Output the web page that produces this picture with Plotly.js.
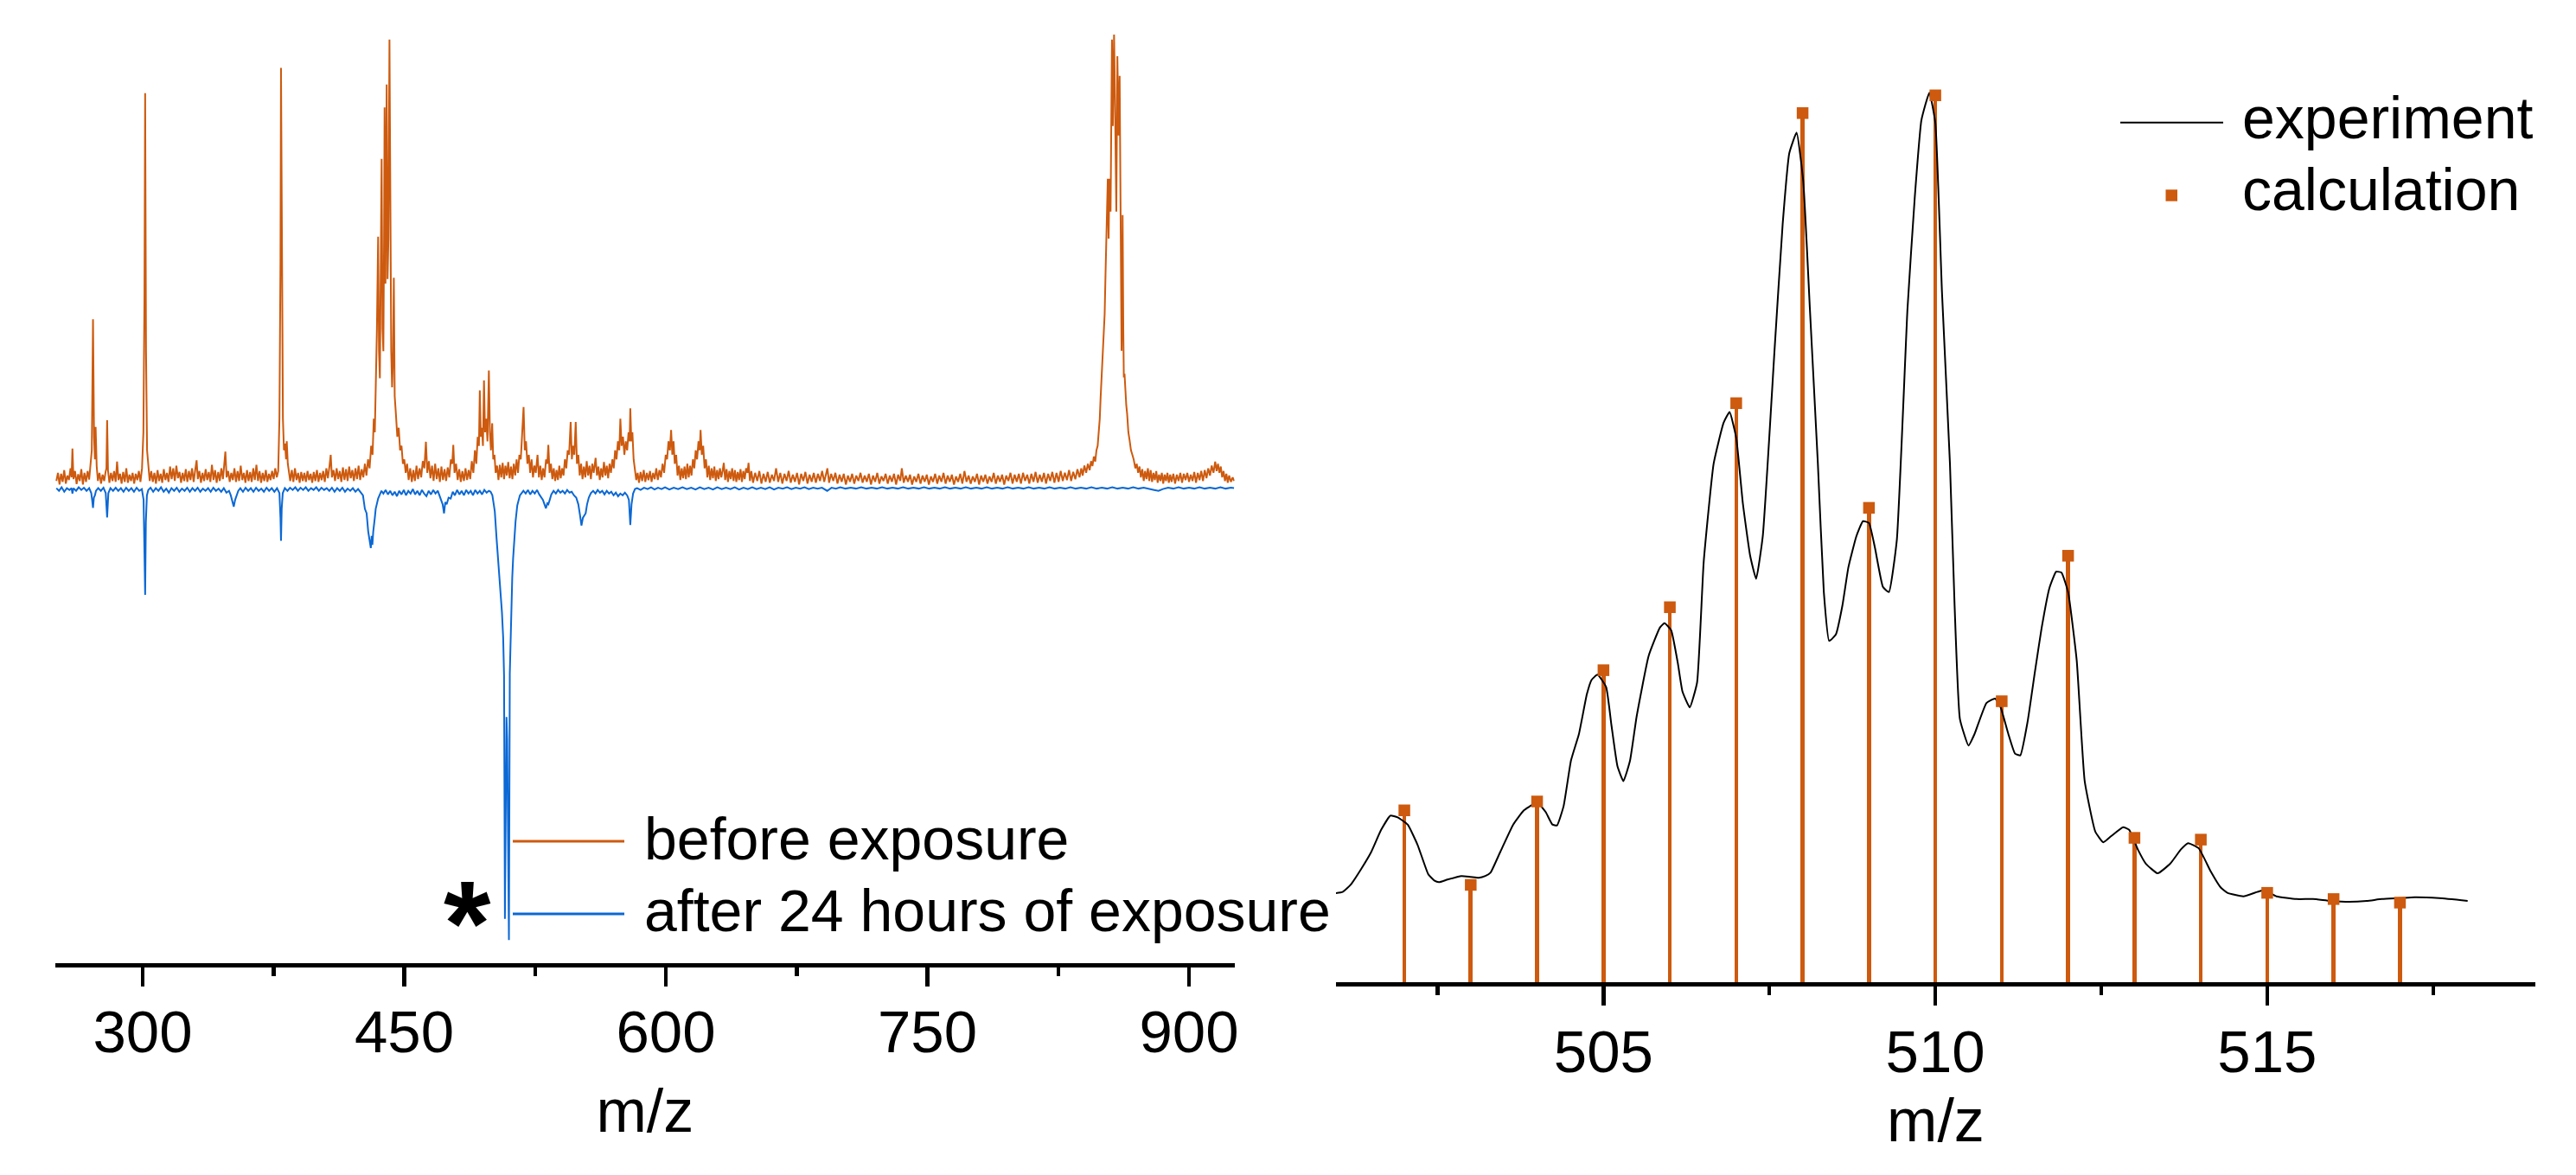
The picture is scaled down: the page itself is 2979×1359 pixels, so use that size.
<!DOCTYPE html>
<html><head><meta charset="utf-8">
<script src="https://cdn.plot.ly/plotly-3.0.1.min.js"></script>
<style>html,body{margin:0;padding:0;background:#fff;}#chart{width:2979px;height:1359px;}</style>
</head><body><div id="chart"></div>
<script>
// ---------- DATA ----------
// Left panel: full mass spectrum, relative intensity (before exposure, drawn upward)
const beforeSpectrum = [
[250.5,0.012],[251.4,0.030],[252.3,0.004],[253.2,0.028],[254.1,0.010],[255.0,0.036],[255.9,0.006],[256.8,0.024],[257.7,0.014],[258.6,0.040],[259.2,0.020],[259.7,0.084],[260.3,0.016],[261.2,0.034],[262.1,0.005],[263.0,0.027],[263.9,0.012],[264.8,0.038],[265.7,0.004],[266.6,0.030],[267.5,0.010],[268.4,0.034],[269.3,0.015],[270.1,0.045],[270.8,0.080],[271.5,0.371],[272.1,0.110],[272.6,0.060],[273.0,0.132],[273.6,0.045],[274.3,0.012],[275.2,0.030],[276.1,0.006],[277.0,0.026],[277.9,0.012],[278.7,0.032],[279.2,0.040],[279.6,0.147],[280.1,0.035],[280.9,0.008],[281.8,0.030],[282.7,0.012],[283.6,0.034],[284.5,0.010],[285.3,0.055],[286.1,0.014],[287.0,0.028],[287.9,0.006],[288.8,0.032],[289.7,0.010],[290.6,0.040],[291.5,0.008],[292.4,0.026],[293.3,0.012],[294.2,0.030],[295.1,0.006],[296.0,0.028],[296.9,0.014],[297.8,0.034],[298.7,0.010],[299.6,0.040],[300.4,0.120],[301.0,0.420],[301.4,0.873],[301.9,0.300],[302.5,0.080],[303.2,0.040],[304.0,0.012],
[304.9,0.034],[305.8,0.010],[306.7,0.030],[307.6,0.006],[308.5,0.036],[309.4,0.012],[310.3,0.028],[311.2,0.008],[312.1,0.038],[313.0,0.014],[313.9,0.030],[314.8,0.010],[315.7,0.044],[316.6,0.016],[317.5,0.040],[318.4,0.012],[319.3,0.046],[320.2,0.018],[321.1,0.032],[322.0,0.008],[322.9,0.030],[323.8,0.012],[324.7,0.038],[325.6,0.010],[326.5,0.034],[327.4,0.014],[328.3,0.040],[329.2,0.010],[330.1,0.036],[330.9,0.058],[331.6,0.016],[332.5,0.034],[333.4,0.008],[334.3,0.030],[335.2,0.012],[336.1,0.038],[337.0,0.014],[337.9,0.032],[338.8,0.010],[339.7,0.048],[340.6,0.014],[341.5,0.036],[342.4,0.008],[343.3,0.032],[344.2,0.012],[345.1,0.040],[346.0,0.016],[346.8,0.050],[347.4,0.077],[348.1,0.020],[349.0,0.034],[349.9,0.010],[350.8,0.030],[351.7,0.014],[352.6,0.040],[353.5,0.010],[354.4,0.034],[355.3,0.012],[356.2,0.046],[357.1,0.014],[358.0,0.030],[358.9,0.008],[359.8,0.036],[360.7,0.012],[361.6,0.032],[362.5,0.010],[363.4,0.040],[364.3,0.014],[365.2,0.048],[366.1,0.012],[367.0,0.034],[367.9,0.008],[368.8,0.030],[369.7,0.012],[370.6,0.036],[371.5,0.010],[372.4,0.028],[373.3,0.014],[374.2,0.034],[375.1,0.016],[376.0,0.040],[376.9,0.020],[377.7,0.034],[378.4,0.150],[379.0,0.500],[379.3,0.929],[379.8,0.450],[380.4,0.150],[381.0,0.080],[381.6,0.095],[382.2,0.060],[382.6,0.100],[383.2,0.050],[383.9,0.030],[384.6,0.012],
[385.5,0.036],[386.4,0.010],[387.3,0.040],[388.2,0.014],[389.1,0.030],[390.0,0.008],[390.9,0.032],[391.8,0.012],[392.7,0.030],[393.6,0.010],[394.5,0.034],[395.4,0.014],[396.3,0.028],[397.2,0.008],[398.1,0.032],[399.0,0.012],[399.9,0.036],[400.8,0.010],[401.7,0.030],[402.6,0.014],[403.5,0.034],[404.4,0.010],[405.3,0.040],[406.2,0.018],[407.1,0.045],[407.8,0.070],[408.5,0.020],[409.4,0.036],[410.3,0.012],[411.2,0.040],[412.1,0.016],[413.0,0.034],[413.9,0.010],[414.8,0.042],[415.7,0.014],[416.6,0.038],[417.5,0.012],[418.4,0.044],[419.3,0.018],[420.2,0.036],[421.1,0.012],[422.0,0.040],[422.9,0.016],[423.8,0.046],[424.7,0.014],[425.6,0.038],[426.5,0.020],[427.4,0.050],[428.3,0.024],[429.2,0.060],[430.1,0.040],[431.0,0.090],[431.8,0.070],[432.5,0.150],[433.1,0.120],[433.7,0.220],[434.3,0.350],[435.0,0.554],[435.5,0.300],[436.0,0.240],[436.5,0.420],[437.0,0.727],[437.5,0.350],[438.0,0.300],[438.4,0.550],[438.7,0.841],[439.2,0.450],[439.5,0.600],[439.9,0.892],[440.4,0.460],[440.9,0.550],[441.5,0.992],[442.0,0.620],[442.5,0.300],[443.0,0.220],[443.5,0.280],[444.0,0.463],[444.5,0.200],[445.2,0.160],[446.0,0.110],[446.8,0.130],[447.6,0.080],[448.4,0.090],[449.2,0.050],[450.0,0.060],[450.8,0.030],[451.6,0.050],[452.5,0.014],[453.4,0.040],[454.3,0.010],[455.2,0.036],[456.1,0.012],[457.0,0.046],[457.9,0.016],[458.8,0.040],[459.7,0.020],[460.6,0.056],[461.5,0.040],[462.4,0.099],[463.2,0.030],[464.1,0.056],[465.0,0.018],[465.9,0.046],[466.8,0.012],[467.7,0.050],[468.6,0.016],[469.5,0.040],[470.4,0.010],[471.3,0.044],[472.2,0.014],[473.1,0.038],[474.0,0.012],[474.9,0.042],[475.8,0.020],[476.7,0.060],[477.5,0.050],[478.1,0.092],[478.8,0.030],[479.7,0.050],[480.6,0.014],[481.5,0.038],[482.4,0.010],[483.3,0.034],[484.2,0.012],[485.1,0.040],[486.0,0.014],[486.9,0.036],[487.8,0.016],[488.7,0.056],[489.6,0.030],[490.5,0.080],[491.3,0.050],[492.1,0.110],[492.8,0.090],[493.3,0.213],[493.9,0.110],[494.5,0.130],[495.1,0.090],[495.7,0.235],[496.3,0.120],[497.0,0.150],[497.7,0.100],[498.5,0.257],[499.1,0.120],[499.7,0.080],[500.4,0.140],[501.0,0.060],[501.7,0.070],[502.4,0.030],[503.2,0.046],[504.0,0.014],[504.8,0.048],[505.6,0.020],[506.4,0.052],[507.2,0.016],[508.0,0.046],[508.8,0.024],[509.6,0.054],[510.4,0.018],[511.2,0.044],[512.0,0.016],[512.8,0.050],[513.6,0.024],[514.4,0.060],[515.2,0.030],[516.0,0.070],[516.8,0.060],[517.6,0.110],[518.4,0.176],[519.1,0.080],[519.8,0.100],[520.6,0.050],[521.4,0.070],[522.2,0.030],[523.0,0.060],[523.8,0.020],[524.6,0.046],[525.4,0.030],[526.4,0.070],[527.2,0.020],[528.0,0.046],[528.8,0.014],[529.6,0.040],[530.4,0.020],[531.3,0.060],[532.0,0.050],[532.6,0.092],[533.3,0.030],[534.1,0.050],[534.9,0.016],[535.7,0.040],[536.5,0.012],[537.3,0.036],[538.1,0.014],[538.9,0.046],[539.7,0.018],[540.5,0.040],[541.3,0.024],[542.1,0.060],[542.9,0.040],[543.7,0.080],[544.5,0.070],[545.4,0.143],[546.1,0.060],[546.8,0.090],[547.5,0.070],[548.3,0.143],[549.0,0.050],[549.8,0.070],[550.6,0.024],[551.4,0.050],[552.2,0.016],[553.0,0.044],[553.8,0.020],[554.6,0.056],[555.4,0.024],[556.2,0.046],[557.0,0.016],[557.8,0.050],[558.6,0.030],[559.7,0.063],[560.5,0.024],[561.3,0.044],[562.1,0.014],[562.9,0.040],[563.7,0.020],[564.5,0.054],[565.3,0.024],[566.1,0.046],[566.9,0.018],[567.7,0.050],[568.5,0.030],[569.3,0.060],[570.1,0.040],[570.9,0.080],[571.7,0.060],[572.5,0.100],[573.3,0.080],[573.9,0.150],[574.6,0.090],[575.4,0.110],[576.2,0.070],[577.0,0.100],[577.8,0.080],[578.6,0.120],[579.2,0.100],[579.6,0.173],[580.2,0.100],[580.8,0.120],[581.5,0.060],[582.2,0.040],[583.0,0.014],
[583.8,0.030],[584.6,0.008],[585.5,0.032],[586.4,0.012],[587.3,0.036],[588.2,0.010],[589.1,0.030],[590.0,0.014],[590.9,0.034],[591.8,0.010],[592.7,0.030],[593.6,0.016],[594.5,0.040],[595.4,0.014],[596.3,0.036],[597.2,0.020],[598.1,0.050],[599.0,0.030],[599.9,0.070],[600.7,0.060],[601.5,0.100],[602.3,0.080],[603.0,0.125],[603.7,0.070],[604.4,0.100],[605.1,0.050],[605.9,0.070],[606.7,0.024],[607.5,0.046],[608.3,0.014],[609.1,0.040],[609.9,0.018],[610.7,0.044],[611.5,0.016],[612.3,0.050],[613.1,0.020],[613.9,0.046],[614.7,0.024],[615.5,0.060],[616.3,0.040],[617.1,0.080],[617.9,0.060],[618.7,0.100],[619.4,0.080],[619.9,0.125],[620.6,0.070],[621.4,0.090],[622.2,0.040],[623.0,0.060],[623.8,0.020],[624.6,0.046],[625.4,0.014],[626.2,0.040],[627.0,0.018],[627.8,0.044],[628.6,0.012],[629.4,0.036],[630.2,0.016],[631.0,0.040],[631.8,0.020],[632.6,0.036],[633.2,0.052],[634.0,0.014],[634.8,0.038],[635.6,0.010],[636.4,0.034],[637.2,0.016],[638.0,0.040],[638.8,0.012],[639.6,0.036],[640.4,0.010],[641.2,0.032],[642.0,0.014],[642.8,0.038],[643.6,0.010],[644.4,0.034],[645.2,0.016],[646.0,0.040],[646.8,0.030],[647.4,0.052],[648.2,0.012],[649.0,0.034],
[650.0,0.008],[651.2,0.030],[652.4,0.012],[653.6,0.034],[654.8,0.006],[656.0,0.028],[657.2,0.010],[658.4,0.032],[659.6,0.008],[660.8,0.026],[662.0,0.012],[663.2,0.040],[664.4,0.010],[665.6,0.030],[666.8,0.006],[668.0,0.028],[669.2,0.012],[670.4,0.034],[671.6,0.008],[672.8,0.026],[674.0,0.010],[675.2,0.030],[676.4,0.004],[677.6,0.028],[678.8,0.012],[680.0,0.032],[681.2,0.006],[682.4,0.026],[683.6,0.010],[684.8,0.030],[686.0,0.008],[687.2,0.028],[688.4,0.012],[689.6,0.034],[690.8,0.010],[692.0,0.030],[692.6,0.040],[693.6,0.008],[694.8,0.028],[696.0,0.012],[697.2,0.030],[698.4,0.006],[699.6,0.026],[700.8,0.010],[702.0,0.028],[703.2,0.004],[704.4,0.024],[705.6,0.010],[706.8,0.028],[708.0,0.006],[709.2,0.024],[710.4,0.012],[711.6,0.030],[712.8,0.008],[714.0,0.024],[715.2,0.010],[716.4,0.028],[717.6,0.004],[718.8,0.024],[720.0,0.010],[721.2,0.030],[722.4,0.006],[723.6,0.022],[724.8,0.012],[726.0,0.028],[727.2,0.006],[728.4,0.024],[729.6,0.010],[730.8,0.028],[732.0,0.004],[733.2,0.026],[734.4,0.012],[735.3,0.040],[736.4,0.008],[737.6,0.024],[738.8,0.010],[740.0,0.026],[741.2,0.004],[742.4,0.022],[743.6,0.010],[744.8,0.028],[746.0,0.006],[747.2,0.024],[748.4,0.010],[749.6,0.026],[750.8,0.004],[752.0,0.022],[753.2,0.010],[754.4,0.028],[755.6,0.006],[756.8,0.024],[758.0,0.010],[759.2,0.030],[760.4,0.006],[761.6,0.024],[762.8,0.010],[764.0,0.026],[765.2,0.004],[766.4,0.022],[767.6,0.010],[768.8,0.028],[770.0,0.006],[771.2,0.034],[772.4,0.010],[773.6,0.024],[774.8,0.006],[776.0,0.022],[777.2,0.010],[778.4,0.028],[779.6,0.004],[780.8,0.024],[782.0,0.010],[783.2,0.026],[784.4,0.006],[785.6,0.022],[786.8,0.010],[788.0,0.030],[789.2,0.006],[790.4,0.024],[791.6,0.010],[792.8,0.026],[794.0,0.004],[795.2,0.024],[796.4,0.012],[797.6,0.030],[798.8,0.006],[800.0,0.026],[801.2,0.010],[802.4,0.028],[803.6,0.006],[804.8,0.030],[806.0,0.012],[807.2,0.026],[808.4,0.006],[809.6,0.028],[810.8,0.010],[812.0,0.032],[813.2,0.008],[814.4,0.026],[815.6,0.010],[816.8,0.030],[818.0,0.006],[819.2,0.028],[820.4,0.012],[821.6,0.032],[822.8,0.008],[824.0,0.030],[825.2,0.010],[826.4,0.034],[827.6,0.012],[828.8,0.030],[830.0,0.014],[831.2,0.036],[832.4,0.012],[833.6,0.032],[834.8,0.016],[836.0,0.038],[837.2,0.020],[838.2,0.040],[839.0,0.024],[840.0,0.046],[841.0,0.030],[842.0,0.050],[843.0,0.036],[843.8,0.056],[844.6,0.045],[845.4,0.066],[846.2,0.055],[846.9,0.080],[847.6,0.090],[848.2,0.120],[848.8,0.150],[849.3,0.198],[849.9,0.240],[850.5,0.280],[851.1,0.330],[851.6,0.382],[852.1,0.470],[852.6,0.565],[853.0,0.620],[853.4,0.683],[853.9,0.550],[854.3,0.683],[854.7,0.640],[855.0,0.610],[855.4,0.800],[855.8,0.992],[856.3,0.800],[856.7,0.900],[857.0,1.003],[857.4,0.900],[857.8,0.700],[858.3,0.610],[858.9,0.955],[859.3,0.850],[859.6,0.779],[860.2,0.911],[860.6,0.650],[861.0,0.450],[861.3,0.301],[861.7,0.450],[861.9,0.602],[862.3,0.350],[862.6,0.242],[863.0,0.250],[863.5,0.200],[864.0,0.180],[864.5,0.161],[865.2,0.120],[865.9,0.103],[866.7,0.080],[867.5,0.070],[868.3,0.059],[869.2,0.040],[870.0,0.050],[870.8,0.030],[871.6,0.044],[872.4,0.020],[873.2,0.038],[874.0,0.012],[874.8,0.034],[875.6,0.016],[876.4,0.040],[877.2,0.012],[878.0,0.036],[878.8,0.010],[879.6,0.030],[880.4,0.014],[881.2,0.034],[882.0,0.008],[882.8,0.026],[883.6,0.012],[884.4,0.030],[885.2,0.006],[886.0,0.026],[886.8,0.012],[887.6,0.030],[888.4,0.008],[889.2,0.026],[890.0,0.010],[891.0,0.028],[892.0,0.006],[893.0,0.026],[894.0,0.012],[895.0,0.030],[896.0,0.008],[897.0,0.028],[898.0,0.014],[899.0,0.030],[900.0,0.010],[901.0,0.026],[902.0,0.012],[903.0,0.032],[904.0,0.008],[905.0,0.030],[906.0,0.014],[907.0,0.034],[908.0,0.012],[909.0,0.036],[910.0,0.018],[911.0,0.040],[912.0,0.024],[913.0,0.046],[914.0,0.030],[915.0,0.055],[915.8,0.034],[916.6,0.050],[917.4,0.030],[918.2,0.044],[919.0,0.020],[919.8,0.034],[920.6,0.012],[921.4,0.028],[922.2,0.008],[923.0,0.024],[924.0,0.010],[925.0,0.020],[925.8,0.012]
];
// after 24 hours of exposure (mirrored, drawn downward)
const afterSpectrum = [
[250.5,-0.004],[252.0,-0.010],[253.5,-0.002],[255.0,-0.012],[256.5,-0.004],[258.0,-0.008],[259.2,-0.004],[259.7,-0.016],[260.3,-0.004],[261.8,-0.010],[263.3,-0.002],[264.8,-0.008],[266.3,-0.003],[267.8,-0.010],[269.3,-0.004],[270.5,-0.015],[271.0,-0.030],[271.5,-0.048],[272.0,-0.025],[272.6,-0.020],[273.2,-0.010],[274.5,-0.004],[276.0,-0.010],[277.5,-0.003],[278.8,-0.015],[279.6,-0.069],[280.3,-0.015],[281.5,-0.004],[283.0,-0.010],[284.5,-0.003],[286.0,-0.010],[287.5,-0.004],[289.0,-0.012],[290.5,-0.003],[292.0,-0.010],[293.5,-0.004],[295.0,-0.012],[296.5,-0.003],[298.0,-0.010],[299.5,-0.006],[300.5,-0.030],[301.0,-0.120],[301.4,-0.241],[301.8,-0.080],[302.4,-0.020],[303.2,-0.008],[304.5,-0.003],[306.0,-0.012],[307.5,-0.004],[309.0,-0.010],[310.5,-0.002],[312.0,-0.012],[313.5,-0.005],[315.0,-0.014],[316.5,-0.004],[318.0,-0.010],[319.5,-0.003],[321.0,-0.012],[322.5,-0.005],[324.0,-0.010],[325.5,-0.003],[327.0,-0.012],[328.5,-0.004],[330.0,-0.010],[331.5,-0.003],[333.0,-0.012],[334.5,-0.005],[336.0,-0.010],[337.5,-0.004],[339.0,-0.012],[340.5,-0.003],[342.0,-0.010],[343.5,-0.005],[345.0,-0.012],[346.5,-0.004],[348.0,-0.014],[349.5,-0.010],[350.5,-0.020],[351.4,-0.035],[352.2,-0.045],[353.0,-0.030],[353.8,-0.020],[354.8,-0.010],[356.0,-0.004],[357.5,-0.012],[359.0,-0.003],[360.5,-0.010],[362.0,-0.004],[363.5,-0.012],[365.0,-0.003],[366.5,-0.010],[368.0,-0.005],[369.5,-0.012],[371.0,-0.003],[372.5,-0.010],[374.0,-0.004],[375.5,-0.012],[377.0,-0.004],[378.4,-0.015],[379.0,-0.070],[379.3,-0.121],[379.7,-0.050],[380.3,-0.015],[381.5,-0.004],[383.0,-0.010],[384.5,-0.003],[386.0,-0.008],[387.5,-0.002],[389.0,-0.010],[390.5,-0.003],[392.0,-0.008],[393.5,-0.002],[395.0,-0.010],[396.5,-0.004],[398.0,-0.008],[399.5,-0.002],[401.0,-0.010],[402.5,-0.003],[404.0,-0.008],[405.5,-0.004],[407.0,-0.010],[408.5,-0.003],[410.0,-0.012],[411.5,-0.004],[413.0,-0.010],[414.5,-0.003],[416.0,-0.012],[417.5,-0.005],[419.0,-0.010],[420.5,-0.004],[422.0,-0.012],[423.5,-0.006],[425.0,-0.014],[426.3,-0.020],[427.4,-0.050],[428.4,-0.060],[429.3,-0.100],[430.1,-0.120],[430.8,-0.137],[431.3,-0.110],[431.7,-0.130],[432.2,-0.100],[432.6,-0.090],[433.1,-0.070],[433.6,-0.050],[434.3,-0.035],[435.0,-0.027],[436.0,-0.018],[436.9,-0.010],[438.0,-0.016],[439.3,-0.008],[440.6,-0.018],[441.9,-0.010],[443.2,-0.020],[444.5,-0.012],[445.8,-0.022],[447.1,-0.010],[448.4,-0.018],[449.7,-0.008],[451.0,-0.020],[452.3,-0.010],[453.6,-0.016],[454.9,-0.006],[456.2,-0.018],[457.5,-0.010],[458.8,-0.020],[460.1,-0.008],[461.4,-0.016],[462.7,-0.022],[464.0,-0.010],[465.3,-0.018],[466.6,-0.008],[467.9,-0.016],[469.2,-0.010],[470.2,-0.022],[471.1,-0.030],[472.0,-0.040],[472.8,-0.060],[473.5,-0.035],[474.3,-0.040],[475.4,-0.025],[476.6,-0.027],[477.8,-0.012],[479.0,-0.020],[480.3,-0.008],[481.6,-0.018],[482.9,-0.010],[484.2,-0.020],[485.5,-0.008],[486.8,-0.016],[488.1,-0.010],[489.4,-0.020],[490.7,-0.008],[492.0,-0.016],[493.3,-0.010],[494.6,-0.018],[495.9,-0.008],[497.2,-0.014],[498.5,-0.010],[499.5,-0.012],[500.5,-0.020],[501.3,-0.040],[501.9,-0.056],[502.9,-0.115],[503.6,-0.150],[504.3,-0.188],[505.2,-0.240],[506.0,-0.280],[506.7,-0.336],[507.2,-0.420],[507.7,-0.960],[508.2,-0.600],[508.6,-0.512],[509.0,-0.560],[509.5,-0.750],[510.0,-1.007],[510.5,-0.416],[511.0,-0.321],[511.5,-0.260],[511.9,-0.203],[512.4,-0.160],[512.9,-0.122],[513.4,-0.100],[513.8,-0.078],[514.3,-0.060],[514.8,-0.042],[515.6,-0.030],[516.3,-0.020],[517.1,-0.016],[518.3,-0.010],[519.6,-0.016],[520.9,-0.008],[522.2,-0.018],[523.5,-0.010],[524.8,-0.016],[526.1,-0.008],[527.4,-0.018],[528.6,-0.025],[529.5,-0.030],[530.4,-0.040],[531.2,-0.049],[532.0,-0.038],[532.6,-0.040],[533.4,-0.030],[534.3,-0.018],[535.6,-0.010],[536.9,-0.016],[538.2,-0.008],[539.5,-0.014],[540.8,-0.010],[542.1,-0.016],[543.4,-0.008],[544.7,-0.014],[546.0,-0.012],[547.3,-0.020],[548.6,-0.025],[549.8,-0.040],[550.8,-0.065],[551.6,-0.087],[552.4,-0.070],[553.2,-0.065],[554.0,-0.060],[554.8,-0.040],[555.8,-0.025],[557.0,-0.015],[558.3,-0.010],[559.6,-0.016],[560.9,-0.008],[562.2,-0.014],[563.5,-0.010],[564.8,-0.018],[566.1,-0.010],[567.4,-0.016],[568.7,-0.012],[570.0,-0.020],[571.3,-0.014],[572.6,-0.022],[573.9,-0.016],[575.2,-0.020],[576.5,-0.014],[577.8,-0.020],[578.8,-0.030],[579.6,-0.086],[580.3,-0.040],[581.2,-0.016],[582.3,-0.006],[583.5,-0.004],[585.5,-0.008],[587.5,-0.003],[589.5,-0.006],[591.5,-0.002],[593.5,-0.007],[595.5,-0.003],[597.5,-0.006],[599.5,-0.002],[602.0,-0.007],[604.5,-0.003],[607.0,-0.006],[609.5,-0.002],[612.0,-0.006],[614.5,-0.003],[617.0,-0.007],[619.5,-0.002],[622.0,-0.006],[624.5,-0.003],[627.0,-0.007],[629.5,-0.002],[632.0,-0.006],[634.5,-0.003],[637.0,-0.006],[639.5,-0.002],[642.0,-0.007],[644.5,-0.003],[647.0,-0.006],[649.5,-0.002],[652.0,-0.006],[654.5,-0.003],[657.0,-0.006],[659.5,-0.002],[662.0,-0.007],[664.5,-0.003],[667.0,-0.005],[669.5,-0.002],[672.0,-0.006],[674.5,-0.003],[677.0,-0.005],[679.5,-0.002],[682.0,-0.006],[684.5,-0.003],[687.0,-0.005],[689.5,-0.003],[692.5,-0.010],[695.0,-0.003],[697.5,-0.005],[700.0,-0.002],[703.0,-0.005],[706.0,-0.003],[709.0,-0.005],[712.0,-0.002],[715.0,-0.005],[718.0,-0.003],[721.0,-0.005],[724.0,-0.002],[727.0,-0.005],[730.0,-0.003],[733.0,-0.005],[736.0,-0.002],[739.0,-0.005],[742.0,-0.003],[745.0,-0.005],[748.0,-0.002],[751.0,-0.005],[754.0,-0.003],[757.0,-0.005],[760.0,-0.002],[763.0,-0.005],[766.0,-0.003],[769.0,-0.005],[772.0,-0.002],[775.0,-0.005],[778.0,-0.003],[781.0,-0.005],[784.0,-0.002],[787.0,-0.005],[790.0,-0.003],[793.0,-0.005],[796.0,-0.002],[799.0,-0.005],[802.0,-0.003],[805.0,-0.005],[808.0,-0.002],[811.0,-0.005],[814.0,-0.003],[817.0,-0.005],[820.0,-0.002],[823.0,-0.005],[826.0,-0.003],[829.0,-0.005],[832.0,-0.002],[835.0,-0.005],[838.0,-0.003],[841.0,-0.005],[844.0,-0.002],[847.0,-0.005],[850.0,-0.003],[853.0,-0.005],[856.0,-0.002],[859.0,-0.005],[862.0,-0.003],[865.0,-0.005],[868.0,-0.002],[871.0,-0.005],[874.0,-0.003],[877.0,-0.006],[880.0,-0.008],[882.5,-0.010],[885.0,-0.006],[888.0,-0.003],[891.0,-0.005],[894.0,-0.002],[897.0,-0.005],[900.0,-0.003],[903.0,-0.005],[906.0,-0.002],[909.0,-0.005],[912.0,-0.003],[915.0,-0.005],[918.0,-0.002],[921.0,-0.005],[924.0,-0.003],[925.8,-0.004]
];
// Right panel: isotope pattern
const calcMz = [502,503,504,505,506,507,508,509,510,511,512,513,514,515,516,517];
const calcAbundance = [19.4,11.0,20.4,35.2,42.3,65.3,98.0,53.5,100,31.7,48.1,16.3,16.1,10.1,9.4,9.0];
const experimentCurve = [
[500.89,10.0],[501.07,10.2],[501.19,11.0],[501.35,12.8],[501.5,14.7],[501.65,17.2],[501.79,18.8],[501.9,18.6],[502.05,17.8],[502.2,15.5],[502.36,12.2],[502.45,11.5],[502.52,11.3],[502.65,11.6],[502.86,12.0],[503.0,11.9],[503.12,11.8],[503.22,12.0],[503.30,12.4],[503.45,14.8],[503.64,17.8],[503.8,19.4],[503.95,20.1],[504.03,20.1],[504.13,19.2],[504.23,17.8],[504.3,17.7],[504.40,19.9],[504.51,25.0],[504.63,28.0],[504.75,32.5],[504.82,34.1],[504.91,34.7],[505.04,33.3],[505.12,29.0],[505.21,24.4],[505.30,22.7],[505.40,25.0],[505.5,30.0],[505.68,36.8],[505.85,40.0],[505.92,40.5],[506.02,39.7],[506.12,36.0],[506.19,32.8],[506.30,31.0],[506.41,33.8],[506.51,47.4],[506.66,58.5],[506.81,63.1],[506.90,64.3],[507.0,61.4],[507.1,54.0],[507.21,48.1],[507.30,45.5],[507.40,50.3],[507.58,71.6],[507.70,85.5],[507.80,93.5],[507.91,95.8],[508.01,90.3],[508.11,75.9],[508.23,58.5],[508.32,44.0],[508.40,38.5],[508.50,39.2],[508.6,42.5],[508.69,46.8],[508.81,50.3],[508.91,52.0],[509.0,51.8],[509.09,49.0],[509.21,44.6],[509.30,44.0],[509.42,49.9],[509.58,75.9],[509.69,88.5],[509.79,97.2],[509.91,100.3],[510.0,96.9],[510.10,77.8],[510.22,58.5],[510.29,42.5],[510.37,29.7],[510.50,26.7],[510.59,28.0],[510.77,31.5],[510.90,32.0],[510.98,31.1],[511.1,28.0],[511.20,25.8],[511.28,25.6],[511.39,29.4],[511.5,35.0],[511.60,39.9],[511.72,44.5],[511.82,46.3],[511.90,46.2],[512.0,44.0],[512.13,36.3],[512.25,22.7],[512.41,17.0],[512.53,15.8],[512.65,16.5],[512.83,17.5],[512.92,17.2],[513.05,15.0],[513.17,13.4],[513.35,12.3],[513.54,13.4],[513.7,15.0],[513.81,15.7],[513.97,15.1],[514.15,12.5],[514.3,10.7],[514.40,10.1],[514.64,9.7],[514.85,10.2],[514.95,10.4],[515.14,9.7],[515.44,9.4],[515.69,9.4],[515.95,9.2],[516.24,9.1],[516.5,9.2],[516.73,9.4],[517.0,9.5],[517.22,9.6],[517.59,9.5],[518.02,9.2]
];
const leftTickVals = [300,450,600,750,900];
const rightTickVals = [505,510,515];
const legendLeft = ["before exposure","after 24 hours of exposure"];
const legendRight = ["experiment","calculation"];
const axisTitle = "m/z";

// ---------- STYLE ----------
const ORANGE = '#CD5A0E', BLUE = '#0B68D4', BLACK = '#000000';
const FONT = 'Liberation Sans, Arial, Helvetica, sans-serif';
const W = 2979, H = 1359;
const px = X => X / W;          // pixel -> paper x
const py = Y => 1 - Y / H;      // pixel (from top) -> paper y

const traces = [
  {x: beforeSpectrum.map(p => p[0]), y: beforeSpectrum.map(p => p[1]), type: 'scatter', mode: 'lines',
   line: {color: ORANGE, width: 2}, xaxis: 'x', yaxis: 'y', name: legendLeft[0], showlegend: false, hoverinfo: 'skip'},
  {x: afterSpectrum.map(p => p[0]), y: afterSpectrum.map(p => p[1]), type: 'scatter', mode: 'lines',
   line: {color: BLUE, width: 2}, xaxis: 'x', yaxis: 'y', name: legendLeft[1], showlegend: false, hoverinfo: 'skip'},
  {x: calcMz, y: calcAbundance, type: 'bar', width: 0.061, marker: {color: ORANGE, line: {width: 0}},
   xaxis: 'x2', yaxis: 'y2', showlegend: false, hoverinfo: 'skip'},
  {x: experimentCurve.map(p => p[0]), y: experimentCurve.map(p => p[1]), type: 'scatter', mode: 'lines',
   line: {color: BLACK, width: 2, shape: 'spline', smoothing: 0.4}, xaxis: 'x2', yaxis: 'y2', name: legendRight[0], showlegend: false, hoverinfo: 'skip'},
  {x: calcMz, y: calcAbundance, type: 'scatter', mode: 'markers',
   marker: {symbol: 'square', size: 13.5, color: ORANGE, line: {width: 0}}, xaxis: 'x2', yaxis: 'y2', name: legendRight[1], showlegend: false, hoverinfo: 'skip', cliponaxis: false}
];

const xAxisCommon = {
  showgrid: false, zeroline: false, showline: true, linecolor: BLACK, linewidth: 5,
  ticks: 'outside', ticklen: 22, tickwidth: 4.5, tickcolor: BLACK, ticklabelstandoff: -6,
  tickfont: {family: FONT, size: 69, color: BLACK}, tickmode: 'array'
};
const yAxisCommon = {visible: false, showgrid: false, zeroline: false, showline: false, fixedrange: true};

const layout = {
  width: W, height: H, margin: {l: 0, r: 0, t: 0, b: 0}, paper_bgcolor: '#fff', plot_bgcolor: 'rgba(0,0,0,0)',
  font: {family: FONT, color: BLACK}, showlegend: false, bargap: 0,
  xaxis: Object.assign({}, xAxisCommon, {
    domain: [px(64), px(1427.7)], range: [249.9, 926.1], anchor: 'y',
    tickvals: leftTickVals, ticktext: leftTickVals.map(String),
    minor: {ticks: 'outside', ticklen: 10, tickwidth: 4.5, tickcolor: BLACK, tick0: 225, dtick: 75, showgrid: false},
    title: {text: axisTitle, font: {family: FONT, size: 70, color: BLACK}, standoff: 30}
  }),
  yaxis: Object.assign({}, yAxisCommon, {domain: [py(1113.5), py(30)], range: [-1.0576, 1.0221], anchor: 'x'}),
  xaxis2: Object.assign({}, xAxisCommon, {
    domain: [px(1545), px(2932)], range: [500.97, 519.04], anchor: 'y2',
    tickvals: rightTickVals, ticktext: rightTickVals.map(String),
    minor: {ticks: 'outside', ticklen: 10, tickwidth: 4.5, tickcolor: BLACK, tick0: 500, dtick: 2.5, showgrid: false},
    title: {text: axisTitle, font: {family: FONT, size: 70, color: BLACK}, standoff: 18}
  }),
  yaxis2: Object.assign({}, yAxisCommon, {domain: [py(1136.3), py(60)], range: [0, 104.9], anchor: 'x2'}),
  shapes: [
    {type: 'line', xref: 'paper', yref: 'paper', x0: px(593), x1: px(722), y0: py(973), y1: py(973), line: {color: ORANGE, width: 3}},
    {type: 'line', xref: 'paper', yref: 'paper', x0: px(593), x1: px(722), y0: py(1057), y1: py(1057), line: {color: BLUE, width: 3}},
    {type: 'line', xref: 'paper', yref: 'paper', x0: px(2452), x1: px(2571), y0: py(141.7), y1: py(141.7), line: {color: BLACK, width: 2}},
    {type: 'rect', xref: 'paper', yref: 'paper', x0: px(2504.5), x1: px(2518), y0: py(232.7), y1: py(219.3), fillcolor: ORANGE, line: {width: 0}}
  ],
  annotations: [
    {text: legendLeft[0], xref: 'paper', yref: 'paper', x: px(743), y: py(970.4), xanchor: 'left', yanchor: 'middle', showarrow: false, font: {family: FONT, size: 68, color: BLACK}},
    {text: legendLeft[1], xref: 'paper', yref: 'paper', x: px(743), y: py(1053.4), xanchor: 'left', yanchor: 'middle', showarrow: false, font: {family: FONT, size: 68, color: BLACK}},
    {text: '<b>*</b>', xref: 'paper', yref: 'paper', x: px(540), y: py(1067), xanchor: 'center', yanchor: 'middle', showarrow: false, font: {family: FONT, size: 140, color: BLACK}},
    {text: legendRight[0], xref: 'paper', yref: 'paper', x: px(2591), y: py(136.4), xanchor: 'left', yanchor: 'middle', showarrow: false, font: {family: FONT, size: 68, color: BLACK}},
    {text: legendRight[1], xref: 'paper', yref: 'paper', x: px(2591), y: py(219.4), xanchor: 'left', yanchor: 'middle', showarrow: false, font: {family: FONT, size: 68, color: BLACK}}
  ]
};

Plotly.newPlot('chart', traces, layout, {staticPlot: true, displayModeBar: false, responsive: false});
</script>
</body></html>
